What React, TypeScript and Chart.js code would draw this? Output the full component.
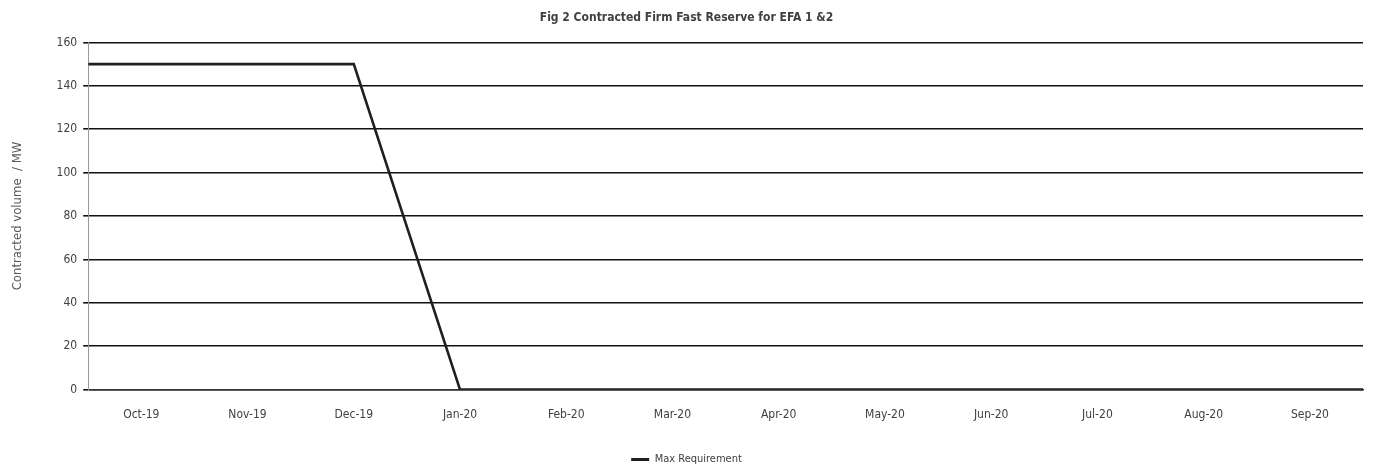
import React, { useEffect, useRef } from "react";
import { Chart, registerables } from "chart.js";

Chart.register(...registerables);

const months = ["Oct-19", "Nov-19", "Dec-19", "Jan-20", "Feb-20", "Mar-20", "Apr-20", "May-20", "Jun-20", "Jul-20", "Aug-20", "Sep-20"];
const maxRequirement = [150, 150, 150, 0, 0, 0, 0, 0, 0, 0, 0, 0];
const yTicks = [0, 20, 40, 60, 80, 100, 120, 140, 160];
const titleText = "Fig 2 Contracted Firm Fast Reserve for EFA 1 &2";
const yTitle = "Contracted volume  / MW";
const seriesName = "Max Requirement";

const FONT = "'Liberation Sans Narrow', 'Arial Narrow', 'DejaVu Sans Condensed', sans-serif";

export default function App() {
  const ref = useRef<HTMLCanvasElement | null>(null);
  useEffect(() => {
    document.body.style.margin = "0";
    if (!ref.current) return;
    // points at category centres, the line carried to both edges of the plot
    const pts = [
      { x: -0.5, y: maxRequirement[0] },
      ...maxRequirement.map((v, i) => ({ x: i, y: v })),
      { x: months.length - 0.5, y: maxRequirement[maxRequirement.length - 1] },
    ];
    const chart = new Chart(ref.current, {
      type: "line",
      data: {
        datasets: [
          {
            label: seriesName,
            data: pts,
            borderColor: "#1f1f1f",
            backgroundColor: "#1f1f1f",
            borderWidth: 2.6,
            pointRadius: 0,
            tension: 0,
          },
        ],
      },
      options: {
        animation: false,
        responsive: false,
        maintainAspectRatio: false,
        layout: { padding: { left: 10, right: 10, top: 4, bottom: -7 } },
        plugins: {
          title: {
            display: true,
            text: titleText,
            color: "#404040",
            font: { family: FONT, size: 12, weight: "bold" },
            padding: { top: 7, bottom: 17 },
          },
          legend: {
            position: "bottom",
            labels: {
              color: "#404040",
              font: { family: FONT, size: 11 },
              boxWidth: 18,
              boxHeight: 3,
              padding: 4,
              generateLabels: (c) =>
                c.data.datasets.map((ds, i) => ({
                  text: ds.label as string,
                  fillStyle: "#1f1f1f",
                  strokeStyle: "#1f1f1f",
                  lineWidth: 0,
                  hidden: false,
                  datasetIndex: i,
                  fontColor: "#404040",
                })),
            },
          },
          tooltip: { enabled: false },
        },
        scales: {
          x: {
            type: "linear",
            min: -0.5,
            max: months.length - 0.5,
            afterBuildTicks: (axis) => {
              axis.ticks = months.map((_, i) => ({ value: i }));
            },
            afterFit: (axis) => {
              axis.height += 18;
            },
            ticks: {
              autoSkip: false,
              maxRotation: 0,
              color: "#404040",
              font: { family: FONT, size: 12 },
              padding: 10,
              callback: (v) => months[Number(v)] ?? "",
            },
            grid: { display: false },
            border: { display: true, color: "#333333", width: 1.6 },
          },
          y: {
            min: 0,
            max: 160,
            afterBuildTicks: (axis) => {
              axis.ticks = yTicks.map((v) => ({ value: v }));
            },
            ticks: {
              color: "#404040",
              font: { family: FONT, size: 12 },
              padding: 6,
            },
            grid: {
              color: "#111111",
              lineWidth: 1.6,
              tickLength: 5,
              drawTicks: true,
            },
            border: { display: true, color: "#9a9a9a", width: 1 },
            title: {
              display: true,
              text: yTitle,
              color: "#595959",
              font: { family: FONT, size: 13 },
              padding: { top: 0, bottom: 25 },
            },
          },
        },
      },
    });
    return () => chart.destroy();
  }, []);
  return (
    <div style={{ width: 1373, height: 468 }}>
      <canvas ref={ref} width={1373} height={468} style={{ display: "block" }} />
    </div>
  );
}
